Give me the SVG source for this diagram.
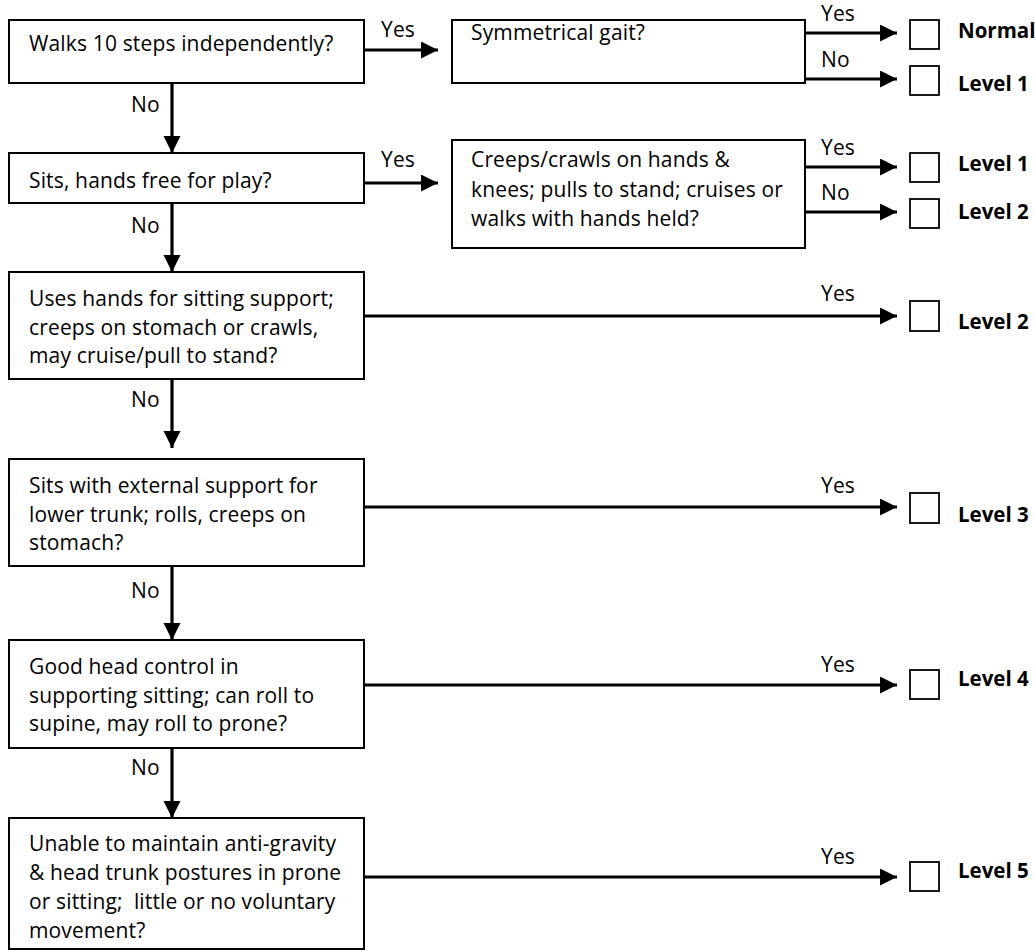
<svg xmlns="http://www.w3.org/2000/svg" width="1035" height="951" viewBox="0 0 1035 951">
<style>
.box{fill:#fff;stroke:#000;stroke-width:2}
.chk{fill:#fff;stroke:#000;stroke-width:1.8}
.t{font-family:"Open Sans","Liberation Sans",sans-serif;font-size:21px;letter-spacing:0.15px;fill:#000;white-space:pre}
.b{font-family:"Open Sans","Liberation Sans",sans-serif;font-size:20.5px;font-weight:bold;fill:#000}
.ln{stroke:#000;stroke-width:3.2;fill:none}
</style>
<defs>
<marker id="ah" markerUnits="userSpaceOnUse" markerWidth="18" markerHeight="18" refX="17" refY="8.5" orient="auto">
<path d="M0,0 L17,8.5 L0,17 z" fill="#000"/>
</marker>
</defs>
<rect width="1035" height="951" fill="#fff"/>
<g id="connectors">
<line class="ln" x1="172" y1="83" x2="172" y2="153" marker-end="url(#ah)"/>
<line class="ln" x1="172" y1="203" x2="172" y2="272" marker-end="url(#ah)"/>
<line class="ln" x1="172" y1="379" x2="172" y2="448" marker-end="url(#ah)"/>
<line class="ln" x1="172" y1="566" x2="172" y2="640" marker-end="url(#ah)"/>
<line class="ln" x1="172" y1="748" x2="172" y2="818" marker-end="url(#ah)"/>
<line class="ln" x1="364" y1="50" x2="438" y2="50" marker-end="url(#ah)"/>
<line class="ln" x1="364" y1="183" x2="438" y2="183" marker-end="url(#ah)"/>
<line class="ln" x1="805" y1="33" x2="897" y2="33" marker-end="url(#ah)"/>
<line class="ln" x1="805" y1="79" x2="897" y2="79" marker-end="url(#ah)"/>
<line class="ln" x1="805" y1="167" x2="897" y2="167" marker-end="url(#ah)"/>
<line class="ln" x1="805" y1="212" x2="897" y2="212" marker-end="url(#ah)"/>
<line class="ln" x1="364" y1="316" x2="897" y2="316" marker-end="url(#ah)"/>
<line class="ln" x1="364" y1="507" x2="897" y2="507" marker-end="url(#ah)"/>
<line class="ln" x1="364" y1="685" x2="897" y2="685" marker-end="url(#ah)"/>
<line class="ln" x1="364" y1="877" x2="897" y2="877" marker-end="url(#ah)"/>
<text class="t" x="381" y="37">Yes</text>
<text class="t" x="381" y="167">Yes</text>
<text class="t" x="821" y="21">Yes</text>
<text class="t" x="821" y="67">No</text>
<text class="t" x="821" y="155">Yes</text>
<text class="t" x="821" y="200">No</text>
<text class="t" x="821" y="301">Yes</text>
<text class="t" x="821" y="493">Yes</text>
<text class="t" x="821" y="672">Yes</text>
<text class="t" x="821" y="864">Yes</text>
<text class="t" x="131" y="112">No</text>
<text class="t" x="131" y="233">No</text>
<text class="t" x="131" y="407">No</text>
<text class="t" x="131" y="598">No</text>
<text class="t" x="131" y="775">No</text>
</g>
<g id="q1"><rect class="box" x="9" y="20" width="355" height="63"/><text class="t" x="29" y="51">Walks 10 steps independently?</text></g>
<g id="q2"><rect class="box" x="9" y="153" width="355" height="50"/><text class="t" x="29" y="188">Sits, hands free for play?</text></g>
<g id="q3"><rect class="box" x="9" y="272" width="355" height="107"/><text class="t" x="29" y="306">Uses hands for sitting support;</text><text class="t" x="29" y="335">creeps on stomach or crawls,</text><text class="t" x="29" y="363">may cruise/pull to stand?</text></g>
<g id="q4"><rect class="box" x="9" y="459" width="355" height="107"/><text class="t" x="29" y="493">Sits with external support for</text><text class="t" x="29" y="522">lower trunk; rolls, creeps on</text><text class="t" x="29" y="550">stomach?</text></g>
<g id="q5"><rect class="box" x="9" y="640" width="355" height="108"/><text class="t" x="29" y="674">Good head control in</text><text class="t" x="29" y="703">supporting sitting; can roll to</text><text class="t" x="29" y="731">supine, may roll to prone?</text></g>
<g id="q6"><rect class="box" x="9" y="818" width="355" height="131"/><text class="t" x="29" y="851">Unable to maintain anti-gravity</text><text class="t" x="29" y="880">&amp; head trunk postures in prone</text><text class="t" x="29" y="909">or sitting;  little or no voluntary</text><text class="t" x="29" y="938">movement?</text></g>
<g id="q1a"><rect class="box" x="452" y="20" width="353" height="63"/><text class="t" x="471" y="40">Symmetrical gait?</text></g>
<g id="q2a"><rect class="box" x="452" y="140" width="353" height="108"/><text class="t" x="471" y="167">Creeps/crawls on hands &amp;</text><text class="t" x="471" y="197">knees; pulls to stand; cruises or</text><text class="t" x="471" y="226">walks with hands held?</text></g>
<g id="r-normal"><rect class="chk" x="910" y="20" width="29" height="29"/><text class="b" x="958" y="38">Normal</text></g>
<g id="r-level1a"><rect class="chk" x="910" y="66" width="29" height="29"/><text class="b" x="958" y="91">Level 1</text></g>
<g id="r-level1b"><rect class="chk" x="910" y="153" width="29" height="29"/><text class="b" x="958" y="171">Level 1</text></g>
<g id="r-level2a"><rect class="chk" x="910" y="199" width="29" height="29"/><text class="b" x="958" y="219">Level 2</text></g>
<g id="r-level2b"><rect class="chk" x="910" y="301" width="29" height="30"/><text class="b" x="958" y="329">Level 2</text></g>
<g id="r-level3"><rect class="chk" x="910" y="493" width="29" height="30"/><text class="b" x="958" y="522">Level 3</text></g>
<g id="r-level4"><rect class="chk" x="910" y="670" width="29" height="29"/><text class="b" x="958" y="686">Level 4</text></g>
<g id="r-level5"><rect class="chk" x="910" y="862" width="29" height="29"/><text class="b" x="958" y="878">Level 5</text></g>
</svg>
